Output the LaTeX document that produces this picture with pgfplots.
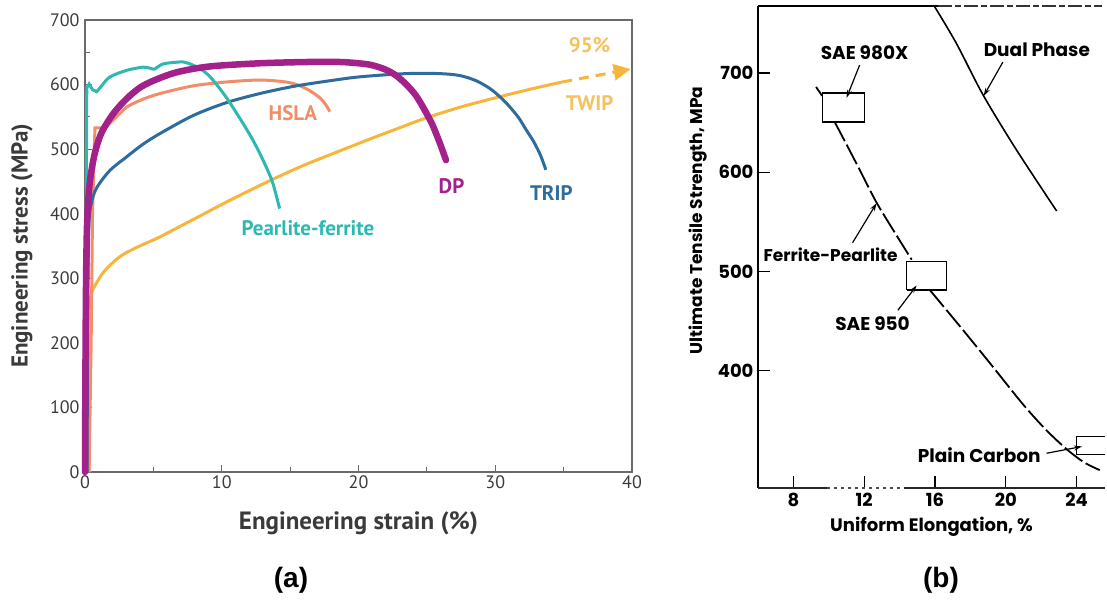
\documentclass[border=0pt]{standalone}
\usepackage{fontspec}
\usepackage{pgfplots}
\pgfplotsset{compat=1.18}
\usetikzlibrary{arrows.meta}
\setmainfont{PT Sans}
\newfontfamily\popp{Poppins}
\newfontfamily\arialf{Liberation Sans}
\definecolor{dpc}{HTML}{A3218A}
\definecolor{tripc}{HTML}{2D6C9C}
\definecolor{pfc}{HTML}{2DB8B1}
\definecolor{hslac}{HTML}{F28D6A}
\definecolor{twipc}{HTML}{F7B53C}
\definecolor{twiplab}{HTML}{F5C260}
\definecolor{axc}{HTML}{6A6A6A}
\definecolor{txc}{HTML}{3A3A3A}
\begin{document}
\begin{tikzpicture}
\useasboundingbox (0,0) rectangle (1107pt,605pt);
% ---------------- panel (a)
\begin{axis}[
  at={(85pt,133pt)}, anchor=south west, scale only axis,
  width=547pt, height=452pt,
  xmin=0, xmax=40, ymin=0, ymax=700,
  xtick={0,10,...,40}, ytick={0,100,...,700},
  minor xtick={5,15,25,35}, minor ytick={50,150,...,650},
  xtick pos=bottom, ytick pos=left,
  tick align=inside, major tick length=7pt, minor tick length=5pt,
  axis line style={axc, line width=1.1pt},
  tick style={axc, line width=0.9pt},
  ticklabel style={font=\fontsize{18}{18}\selectfont, text=txc},
  yticklabel style={xshift=-2pt},
  /pgf/number format/assume math mode=true,
  xlabel={Engineering strain (\%)}, ylabel={Engineering stress (MPa)},
  xlabel style={font=\bfseries\fontsize{25}{25}\selectfont, text=txc, at={(axis description cs:0.5,0)}, anchor=center, yshift=-51pt},
  ylabel style={font=\bfseries\fontsize{23}{23}\selectfont, text=txc, at={(axis description cs:0,0.5)}, anchor=center, yshift=63pt},
  clip=false,
]
% TWIP
\addplot[twipc, line width=3pt, smooth] coordinates {(0.3,0)(0.33,150)(0.37,250)(0.45,275)(0.85,293)(1.3,308)(1.82,320)(2.4,331)(3.04,340)(4.2,352)(5.47,364)(8,392)(10.34,418)(13.4,450)(16,475)(18.6,497)(21,517)(23,533)(24.9,548)(27.6,566)(30.5,582)(32.8,594)(34.9,604)};
\addplot[twipc, line width=3pt, dash pattern=on 10pt off 7pt, -{Triangle[length=17pt,width=16pt]}] coordinates {(34.9,604)(39.9,624)};
% HSLA
\addplot[hslac, line width=3pt] coordinates {(0.3,0)(0.45,200)(0.55,400)(0.68,500)(0.73,533)(1.45,533)};
\addplot[hslac, line width=3pt, smooth] coordinates {(1.45,533)(2.3,550)(3.04,565)(4.2,577)(5.47,586)(7.9,598)(10.34,604)(12.77,607)(14.7,604)(15.6,599)(16.4,591)(17.2,579)(17.6,569)(17.9,558)};
% TRIP
\addplot[tripc, line width=3pt, smooth] coordinates {(0.15,0)(0.2,250)(0.28,380)(0.45,415)(0.85,440)(1.82,467)(3.04,488)(4.2,507)(5.47,524)(7.9,552)(10.34,572)(12.77,586)(15.2,597)(17.6,605)(20.1,612)(23.5,617)(25.9,617)(27.4,614)(28.6,606)(29.6,594)(30.4,580)(31,567)(31.7,549)(32.2,532)(32.8,512)(33.3,491)(33.7,468)};
% Pearlite-ferrite
\addplot[pfc, line width=3pt] coordinates {(0.05,0)(0.1,450)(0.13,595)(0.3,601)(0.55,592)(0.85,589)(1.3,600)};
\addplot[pfc, line width=3pt, smooth] coordinates {(1.3,600)(1.83,612)(3.04,622)(4.26,627)(4.8,625)(5.1,624)(5.5,630)(5.96,633)(7.18,635)(7.9,630)(8.6,622)(9.1,613)(9.7,598)(10.3,581)(10.9,562)(11.55,540)(12.2,517)(12.77,494)(13.3,470)(13.74,447)(14.23,408)};
% DP
\addplot[dpc, line width=6.5pt, line cap=round, smooth] coordinates {(0,0)(0.03,150)(0.08,300)(0.16,390)(0.35,448)(0.7,492)(1.2,525)(2.07,555)(3.04,578)(4,595)(5,606)(6.7,619)(9.1,628)(12.8,633)(16.4,635)(18.6,635)(20,633)(21,630)(22,623)(22.75,614)(23.5,600)(24.2,583)(24.8,562)(25.4,538)(25.9,512)(26.4,483)};
% labels
\begin{scope}[font=\bfseries\fontsize{21}{21}\selectfont]
\node[text=hslac] at (axis cs:15.2,556) {HSLA};
\node[text=pfc] at (axis cs:16.3,378) {Pearlite-ferrite};
\node[text=dpc] at (axis cs:26.8,442) {DP};
\node[text=tripc] at (axis cs:34.1,432) {TRIP};
\node[text=twiplab] at (axis cs:36.9,571) {TWIP};
\node[text=twiplab] at (axis cs:36.9,661) {95\%};
\end{scope}
\end{axis}
% ---------------- panel (b)
\begin{axis}[
  at={(758pt,117pt)}, anchor=south west, scale only axis,
  width=347pt, height=482pt,
  xmin=6, xmax=25.6, ymin=282, ymax=767.5,
  xtick={8,12,16,20,24}, ytick={400,500,600,700},
  xtick pos=bottom, ytick pos=left,
  tick align=inside, major tick length=12pt,
  axis line style={draw=none},
  tick style={black, line width=1.2pt},
  ticklabel style={font=\popp\bfseries\fontsize{18}{18}\selectfont, text=black},
  /pgf/number format/assume math mode=true,
  xticklabel style={yshift=-2pt},
  yticklabel style={xshift=-1pt},
  xlabel={Uniform Elongation, \%}, ylabel={Ultimate Tensile Strength, MPa},
  xlabel style={font=\popp\bfseries\fontsize{18}{18}\selectfont, at={(axis description cs:0.5,0)}, anchor=center, yshift=-39pt},
  ylabel style={font=\popp\bfseries\fontsize{17}{17}\selectfont, at={(axis description cs:0,0.555)}, anchor=center, yshift=60pt},
  clip=false,
]
% axis lines
\draw[black, line width=1.8pt] (axis description cs:0,0) -- (axis description cs:0,1);
\draw[black, line width=1.8pt] (axis description cs:0,1) -- (axis description cs:0.52,1);
\draw[black!80, line width=1.3pt, dash pattern=on 14pt off 3pt on 6pt off 3pt] (axis description cs:0.52,1) -- (axis description cs:0.99,1);
\draw[black!85, line width=1.5pt] (axis description cs:0,0) -- (axis description cs:0.2,0);
\draw[black!70, line width=1.2pt, dash pattern=on 3pt off 4pt] (axis description cs:0.2,0) -- (axis description cs:0.42,0);
\draw[black!85, line width=1.5pt] (axis description cs:0.42,0) -- (axis description cs:1,0);
% Dual Phase
\addplot[black, line width=1.6pt, smooth] coordinates {(15.98,766.7)(17.2,730)(18.71,678)(20.6,622.5)(22.87,561)};
% Ferrite-Pearlite (dashed)
\addplot[black, line width=1.8pt] coordinates {(9.28,686)(9.62,677)};
\addplot[black, line width=1.8pt, dash pattern=on 22pt off 4pt, smooth] coordinates {(10.32,651)(11.0,628)(11.7,604)(12.68,570)(13.7,540)(14.68,512)};
\addplot[black, line width=1.8pt, dash pattern=on 22pt off 4pt, smooth] coordinates {(15.7,481.5)(17.4,445)(19.09,408)(20.98,366)(22.3,340)(23.44,321)(24.4,308)(25.3,300)};
% boxes
\addplot[black, line width=1.5pt] coordinates {(9.64,650.7)(12.02,650.7)(12.02,680)(9.64,680)(9.64,650.7)};
\addplot[black, line width=1.5pt] coordinates {(14.4,481.5)(16.66,481.5)(16.66,510)(14.4,510)(14.4,481.5)};
\addplot[black, line width=1.5pt] coordinates {(25.6,315.5)(24.0,315.5)(24.0,334)(25.6,334)};
% labels
\begin{scope}[font=\popp\bfseries\fontsize{18.5}{18.5}\selectfont]
\node at (axis cs:12.02,720) {SAE 980X};
\node at (axis cs:21.75,723) {Dual Phase};
\node[font=\popp\bfseries\fontsize{17}{17}\selectfont] at (axis cs:10.1,517) {Ferrite-Pearlite};
\node at (axis cs:12.47,448) {SAE 950};
\node at (axis cs:18.5,315.5) {Plain Carbon};
\end{scope}
\begin{scope}[black, line width=1.2pt, -{Stealth[length=8pt,width=5pt]}]
\draw (axis cs:11.74,708) -- (axis cs:11.0,675);
\draw (axis cs:19.83,711) -- (axis cs:18.75,677);
\draw (axis cs:11.34,529) -- (axis cs:12.7,569);
\draw (axis cs:13.9,461) -- (axis cs:14.96,486);
\draw (axis cs:22.3,317) -- (axis cs:24.3,323.8);
\end{scope}
\end{axis}
% panel captions
\node[font=\arialf\bfseries\fontsize{28}{28}\selectfont] at (291pt,25pt) {(a)};
\node[font=\arialf\bfseries\fontsize{28}{28}\selectfont] at (941pt,25pt) {(b)};
\end{tikzpicture}
\end{document}
